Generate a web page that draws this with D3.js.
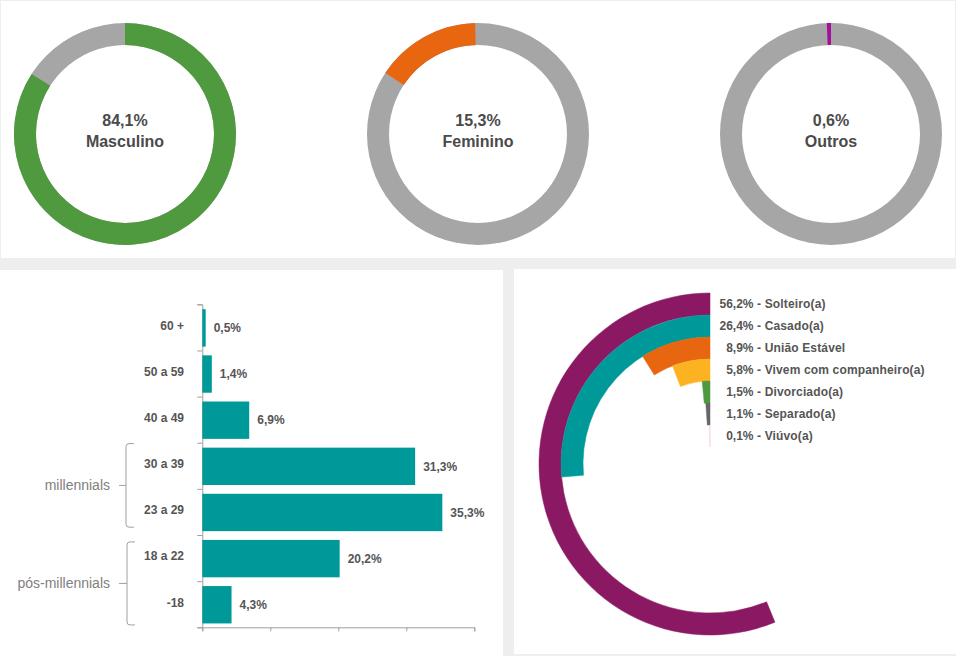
<!DOCTYPE html>
<html>
<head>
<meta charset="utf-8">
<script src="https://cdn.jsdelivr.net/npm/d3@7"></script>
<style>
	html, body {margin: 0; padding: 0; background: #eeeeee; overflow: hidden;}
	text {font-family: "Liberation Sans", Arial, sans-serif;}
</style>
</head>
<body>
<div id="vis"></div>
<script>
// gender donuts
const GENDER_LABELS = ["Masculino", "Feminino", "Outros"];
const GENDER_VALUES = [84.1, 15.3, 0.6];
const GENDER_TEXT = ["84,1%", "15,3%", "0,6%"];
const GENDER_COLORS = ["#4f9a3f", "#e96610", "#a4109c"];
const GENDER_CENTERS = [125, 478, 831];
const GENDER_START_DEG = [0, -1.5, 0];
const GENDER_DIRECTION = [1, -1, -1];

// age bars
const AGE_LABELS = ["60 +", "50 a 59", "40 a 49", "30 a 39", "23 a 29", "18 a 22", "-18"];
const AGE_VALUES = [0.5, 1.4, 6.9, 31.3, 35.3, 20.2, 4.3];
const AGE_TEXT = ["0,5%", "1,4%", "6,9%", "31,3%", "35,3%", "20,2%", "4,3%"];
const AGE_TICKS = [0, 10, 20, 30, 40];
const GROUP_LABELS = ["millennials", "pós-millennials"];
const GROUP_FIRST = ["30 a 39", "18 a 22"];
const GROUP_LAST = ["23 a 29", "-18"];

// marital status rings
const MARITAL_LABELS = ["Solteiro(a)", "Casado(a)", "União Estável", "Vivem com companheiro(a)", "Divorciado(a)", "Separado(a)", "Viúvo(a)"];
const MARITAL_VALUES = [56.2, 26.4, 8.9, 5.8, 1.5, 1.1, 0.1];
const MARITAL_TEXT = ["56,2%", "26,4%", "8,9%", "5,8%", "1,5%", "1,1%", "0,1%"];
const MARITAL_COLORS = ["#8b1862", "#009999", "#e8660f", "#fdb222", "#4f9a3f", "#666666", "#f5c6d6"];

const FRAME_WIDTH = 956;
const FRAME_HEIGHT = 656;
const TEXT_DARK = "#4a4a4a";
const AXIS_GRAY = "#a0a0a0";

const FRAME = d3.select("#vis")
	.append("svg")
		.attr("width", FRAME_WIDTH)
		.attr("height", FRAME_HEIGHT)
		.style("display", "block");

// white panels
FRAME.append("rect").attr("x", 1).attr("y", 1).attr("width", 954).attr("height", 257).attr("fill", "white");
FRAME.append("rect").attr("x", 0).attr("y", 270).attr("width", 503).attr("height", 386).attr("fill", "white");
FRAME.append("rect").attr("x", 514).attr("y", 269).attr("width", 442).attr("height", 385).attr("fill", "white");

// ---- donuts ----
const DONUT_Y = 134;
const ANGLE = d3.scaleLinear().domain([0, 100]).range([0, 2 * Math.PI]);
const DONUT_ARC = d3.arc().innerRadius(89).outerRadius(111);

GENDER_VALUES.forEach((value, i) => {
	const g = FRAME.append("g")
		.attr("transform", "translate(" + GENDER_CENTERS[i] + "," + DONUT_Y + ")");

	g.append("path")
		.attr("d", DONUT_ARC({startAngle: 0, endAngle: 2 * Math.PI}))
		.attr("fill", "#a6a6a6");

	const start = GENDER_START_DEG[i] * Math.PI / 180;
	g.append("path")
		.attr("d", DONUT_ARC({startAngle: start, endAngle: start + GENDER_DIRECTION[i] * ANGLE(value)}))
		.attr("fill", GENDER_COLORS[i]);

	g.append("text")
		.attr("text-anchor", "middle")
		.attr("y", -14)
		.attr("dy", "0.35em")
		.attr("font-size", "16px")
		.attr("font-weight", "bold")
		.attr("fill", TEXT_DARK)
		.text(GENDER_TEXT[i]);

	g.append("text")
		.attr("text-anchor", "middle")
		.attr("y", 7)
		.attr("dy", "0.35em")
		.attr("font-size", "16px")
		.attr("font-weight", "bold")
		.attr("fill", TEXT_DARK)
		.text(GENDER_LABELS[i]);
});

// ---- age bars ----
const X_LEFT = 202.3;
const Y_TOP = 304.3;
const Y_BOTTOM = 627.3;

const X_SCALE = d3.scaleLinear().domain([0, 40]).range([X_LEFT, X_LEFT + 272]);
const Y_SCALE = d3.scaleBand().domain(AGE_LABELS).range([Y_TOP, Y_BOTTOM])
	.paddingInner(0.19).paddingOuter(0.095).align(0.56);
const Y_EDGES = d3.scaleLinear().domain([0, AGE_LABELS.length]).range([Y_TOP, Y_BOTTOM]);

const xAxis = FRAME.append("g")
	.attr("transform", "translate(0," + Y_BOTTOM + ")")
	.call(d3.axisBottom(X_SCALE).tickValues(AGE_TICKS).tickSize(4).tickFormat(""));

// edge ticks only, the labels come from the band axis below
const yAxis = FRAME.append("g")
	.attr("transform", "translate(" + X_LEFT + ",0)")
	.call(d3.axisLeft(Y_EDGES).ticks(AGE_LABELS.length).tickSize(5).tickFormat(""));

[xAxis, yAxis].forEach((a) => {
	a.selectAll("path, line").attr("stroke", AXIS_GRAY);
});

const yLabels = FRAME.append("g")
	.attr("transform", "translate(184,-2)")
	.call(d3.axisLeft(Y_SCALE).tickSize(0).tickPadding(0));
yLabels.select(".domain").remove();
yLabels.selectAll("text")
	.attr("font-family", "Liberation Sans")
	.attr("font-size", "12px")
	.attr("font-weight", "bold")
	.attr("fill", "#555555");

FRAME.selectAll(".bar")
	.data(AGE_VALUES)
	.enter()
	.append("rect")
		.attr("class", "bar")
		.attr("x", X_LEFT)
		.attr("y", (d, i) => Y_SCALE(AGE_LABELS[i]))
		.attr("width", (d) => X_SCALE(d) - X_LEFT)
		.attr("height", Y_SCALE.bandwidth())
		.attr("fill", "#009999");

FRAME.selectAll(".bar-label")
	.data(AGE_VALUES)
	.enter()
	.append("text")
		.attr("class", "bar-label")
		.attr("x", (d) => X_SCALE(d) + 8)
		.attr("y", (d, i) => Y_SCALE(AGE_LABELS[i]) + Y_SCALE.bandwidth() / 2)
		.attr("dy", "0.35em")
		.attr("font-size", "12px")
		.attr("font-weight", "bold")
		.attr("fill", "#555555")
		.text((d, i) => AGE_TEXT[i]);

// brackets around the generation groups
const BRACKET_TOP_OFFSET = [-4, 2];
const BRACKET_BOTTOM_OFFSET = [-4, 1.5];

GROUP_LABELS.forEach((label, i) => {
	const top = Y_SCALE(GROUP_FIRST[i]) + BRACKET_TOP_OFFSET[i];
	const bottom = Y_SCALE(GROUP_LAST[i]) + Y_SCALE.bandwidth() + BRACKET_BOTTOM_OFFSET[i];
	const mid = (top + bottom) / 2;
	const x = 126 + i;
	const p = d3.path();
	p.moveTo(x + 8, top);
	p.lineTo(x + 3, top);
	p.quadraticCurveTo(x, top, x, top + 3);
	p.lineTo(x, bottom - 3);
	p.quadraticCurveTo(x, bottom, x + 3, bottom);
	p.lineTo(x + 8, bottom);
	p.moveTo(x, mid);
	p.lineTo(119, mid);

	FRAME.append("path")
		.attr("d", p.toString())
		.attr("fill", "none")
		.attr("stroke", AXIS_GRAY)
		.attr("stroke-width", 1);

	FRAME.append("text")
		.attr("x", 110)
		.attr("y", mid)
		.attr("dy", "0.35em")
		.attr("text-anchor", "end")
		.attr("font-size", "14px")
		.attr("fill", "#808080")
		.text(label);
});

// ---- marital rings ----
const RING_X = 710;
const RING_Y = 464;
const RADIUS = d3.scaleBand().domain(MARITAL_LABELS).range([171, 17]);

const rings = FRAME.append("g")
	.attr("transform", "translate(" + RING_X + "," + RING_Y + ")");

rings.selectAll("path")
	.data(MARITAL_VALUES)
	.enter()
	.append("path")
		.attr("d", (d, i) => d3.arc()({
			innerRadius: RADIUS(MARITAL_LABELS[i]),
			outerRadius: RADIUS(MARITAL_LABELS[i]) + RADIUS.bandwidth(),
			startAngle: 0,
			endAngle: -ANGLE(d)
		}))
		.attr("fill", (d, i) => MARITAL_COLORS[i])
		.attr("stroke", (d, i) => MARITAL_COLORS[i])
		.attr("stroke-width", 0.5);

// legend: percent right aligned, name left aligned, one line per ring
const ringLabelY = (i) => RING_Y - RADIUS(MARITAL_LABELS[i]) - RADIUS.bandwidth() / 2;

FRAME.selectAll(".ring-pct")
	.data(MARITAL_TEXT)
	.enter()
	.append("text")
		.attr("class", "ring-pct")
		.attr("x", 753.5)
		.attr("y", (d, i) => ringLabelY(i))
		.attr("dy", "0.35em")
		.attr("text-anchor", "end")
		.attr("font-size", "12px")
		.attr("font-weight", "bold")
		.attr("fill", "#555555")
		.text((d) => d);

FRAME.selectAll(".ring-name")
	.data(MARITAL_LABELS)
	.enter()
	.append("text")
		.attr("class", "ring-name")
		.attr("x", 757)
		.attr("y", (d, i) => ringLabelY(i))
		.attr("dy", "0.35em")
		.attr("font-size", "12px")
		.attr("font-weight", "bold")
		.attr("letter-spacing", "0.15px")
		.attr("fill", "#555555")
		.text((d) => "- " + d);
</script>
</body>
</html>
